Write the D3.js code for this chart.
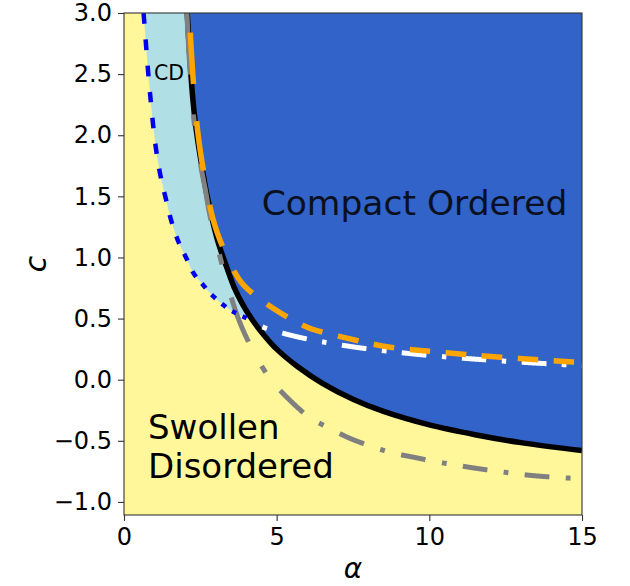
<!DOCTYPE html>
<html><head><meta charset="utf-8">
<script src="https://cdn.jsdelivr.net/npm/d3@7"></script>
<style>
html,body{margin:0;padding:0;background:#fff;}
svg{display:block;font-family:"DejaVu Sans",sans-serif;}
</style></head>
<body><svg id="chart" width="630" height="586"></svg>
<script>
// ---- data ----
const xTicks = [0, 5, 10, 15];
const yTicks = [-1.0, -0.5, 0.0, 0.5, 1.0, 1.5, 2.0, 2.5, 3.0];

// solid black phase boundary
const blackAlpha = [2.07, 2.14, 2.22, 2.30, 2.40, 2.54, 2.71, 2.90, 3.10, 3.35, 3.60, 3.90, 4.20, 4.60, 5.0, 5.67, 6.5, 7.5, 8.5, 10.0, 11.5, 13.0, 15.0];
const blackC     = [3.0, 2.7, 2.4, 2.18, 1.98, 1.76, 1.52, 1.30, 1.11, 0.93, 0.76, 0.61, 0.49, 0.36, 0.25, 0.11, -0.03, -0.16, -0.26, -0.37, -0.45, -0.515, -0.58];

// blue dotted boundary (CD / swollen)
const blueAlpha = [0.64, 0.66, 0.73, 0.80, 0.88, 0.96, 1.07, 1.21, 1.38, 1.56, 1.78, 2.03, 2.28, 2.59, 2.87, 3.19, 3.48, 3.83, 4.2];
const blueC     = [3.0, 2.94, 2.71, 2.49, 2.27, 2.07, 1.85, 1.65, 1.47, 1.29, 1.13, 1.00, 0.87, 0.775, 0.695, 0.625, 0.57, 0.525, 0.48];

// grey dash-dot line
const grayAlpha = [2.06, 2.12, 2.2, 2.3, 2.42, 2.55, 2.66, 2.8, 3.0, 3.3, 3.73, 4.22, 4.78, 5.44, 6.09, 6.75, 7.4, 8.16, 8.8, 9.4, 10.2, 11.4, 12.25, 13.2, 14.2, 15.0];
const grayC     = [3.0, 2.7, 2.4, 2.1, 1.9, 1.7, 1.56, 1.36, 1.15, 0.86, 0.51, 0.24, 0.01, -0.17, -0.31, -0.40, -0.48, -0.55, -0.60, -0.63, -0.67, -0.72, -0.75, -0.78, -0.80, -0.81];

// orange dashed line
const orangeAlpha = [2.17, 2.27, 2.42, 2.63, 2.92, 3.28, 3.8, 4.29, 4.85, 5.44, 6.09, 6.65, 7.3, 8.6, 10.35, 12.0, 15.0];
const orangeC     = [2.84, 2.44, 2.02, 1.67, 1.31, 1.06, 0.81, 0.69, 0.59, 0.50, 0.42, 0.38, 0.34, 0.27, 0.225, 0.19, 0.14];

// white dash-dot line
const whiteAlpha = [4.2, 4.55, 5.6, 6.6, 7.6, 8.4, 9.7, 11.4, 13.2, 15.0];
const whiteC     = [0.47, 0.43, 0.355, 0.305, 0.265, 0.24, 0.205, 0.17, 0.14, 0.115];

const regionNames = ["Compact Ordered", "Swollen", "Disordered", "CD"];

// ---- layout ----
const W = 630, H = 586;
const m = {left: 124, top: 13, right: 48, bottom: 71};
const iw = W - m.left - m.right, ih = H - m.top - m.bottom;

const x = d3.scaleLinear().domain([0, 15]).range([0, iw]);
const y = d3.scaleLinear().domain([-1.107, 3.0]).range([ih, 0]);

const svg = d3.select("#chart");
const g = svg.append("g").attr("transform", `translate(${m.left},${m.top})`);

svg.append("defs").append("clipPath").attr("id", "clip")
  .append("rect").attr("width", iw).attr("height", ih);

const plot = g.append("g").attr("clip-path", "url(#clip)");

const zip = (a, c) => a.map((v, i) => [v, c[i]]);
const blackPts = zip(blackAlpha, blackC);
const bluePts = zip(blueAlpha, blueC);
const grayPts = zip(grayAlpha, grayC);
const orangePts = zip(orangeAlpha, orangeC);
const whitePts = zip(whiteAlpha, whiteC);

const line = d3.line().x(d => x(d[0])).y(d => y(d[1])).curve(d3.curveCatmullRom.alpha(0.5));

// background (swollen disordered)
plot.append("rect").attr("width", iw).attr("height", ih).attr("fill", "#fff79a");

// CD region (light blue)
const blackUpper = blackPts.filter(d => d[0] <= 4.2).slice().reverse();
const cdPath = line(bluePts) + "L" + line(blackUpper).slice(1) + `L${x(0.64)},${y(3.2)}Z`;
plot.append("path").attr("d", cdPath).attr("fill", "#b0e0e6");

// compact ordered region
const coPath = line(blackPts) + `L${x(15.5)},${y(-0.58)}L${x(15.5)},${y(3.3)}L${x(2.07)},${y(3.3)}Z`;
plot.append("path").attr("d", coPath).attr("fill", "#3163c9");

// custom dashing (pattern measured along the drawn curves in the picture)
function dashes(pts, pattern, s, offset) {
  const tmp = plot.append("path").attr("d", line(pts)).attr("fill", "none");
  const node = tmp.node(), L = node.getTotalLength();
  const samples = [];
  for (let l = 0; l < L; l += 0.4) samples.push(node.getPointAtLength(l));
  samples.push(node.getPointAtLength(L));
  tmp.remove();
  const period = d3.sum(pattern);
  const isOn = w => {
    let r = ((w % period) + period) % period;
    for (let i = 0; i < pattern.length; i++) { if (r < pattern[i]) return i % 2 === 0; r -= pattern[i]; }
    return false;
  };
  const segs = []; let cur = null; let w = offset || 0;
  samples.forEach((p, i) => {
    if (i > 0) { const q = samples[i - 1]; w += Math.hypot(p.x - q.x, (p.y - q.y) / s); }
    if (isOn(w)) { if (!cur) { cur = []; segs.push(cur); } cur.push([p.x, p.y]); }
    else cur = null;
  });
  return segs.filter(sg => sg.length > 1);
}
function drawDashed(pts, color, width, pattern, offset) {
  const segs = dashes(pts, pattern, 2.5, offset);
  plot.append("g").selectAll("path").data(segs).join("path")
    .attr("d", d => d3.line()(d)).attr("fill", "none")
    .attr("stroke", color).attr("stroke-width", width)
    .attr("stroke-linecap", "butt").attr("stroke-linejoin", "round");
}

// solid black boundary
plot.append("path").attr("d", line(blackPts)).attr("fill", "none")
  .attr("stroke", "#000").attr("stroke-width", 5.5);

drawDashed(grayPts, "#808080", 5, [25, 16, 5, 16], 0);
drawDashed(whitePts, "#ffffff", 5, [25, 15, 5, 15], 30);
drawDashed(orangePts, "#ffa500", 5.5, [21, 15], 0);
drawDashed(bluePts, "#0000ee", 4.5, [4.5, 6.2], 0);

// region labels
const texts = g.append("g");
texts.append("text").attr("x", 414.5 - m.left).attr("y", 215 - m.top).attr("text-anchor", "middle")
  .attr("font-size", 34.5).attr("fill", "#0b1020").text(regionNames[0]);
[regionNames[1], regionNames[2]].forEach((t, i) => {
  texts.append("text").attr("x", 148 - m.left).attr("y", 439 - m.top + i * 39)
    .attr("font-size", 34).attr("fill", "#000").text(t);
});
texts.append("text").attr("x", 154 - m.left).attr("y", 80 - m.top)
  .attr("font-size", 20.5).attr("fill", "#000").text(regionNames[3]);

// axes
const xAxis = g.append("g").attr("transform", `translate(0,${ih})`)
  .call(d3.axisBottom(x).tickValues(xTicks).tickFormat(d3.format("d")).tickSize(6).tickPadding(7));
const yAxis = g.append("g")
  .call(d3.axisLeft(y).tickValues(yTicks).tickFormat(d3.format(".1f")).tickSize(6).tickPadding(6));
[xAxis, yAxis].forEach(a => {
  a.select(".domain").remove();
  a.selectAll(".tick line").attr("stroke", "#333").attr("stroke-width", 1.1);
  a.selectAll(".tick text").attr("font-size", 24).attr("fill", "#000")
    .attr("font-family", "DejaVu Sans");
});
g.append("rect").attr("width", iw).attr("height", ih).attr("fill", "none")
  .attr("stroke", "#333").attr("stroke-width", 1.1);

// axis labels
svg.append("text").attr("x", m.left + iw / 2).attr("y", 578).attr("text-anchor", "middle")
  .attr("font-size", 28).attr("font-style", "italic").attr("font-family", "DejaVu Sans").text("α");
svg.append("text").attr("transform", `translate(46,${m.top + ih / 2}) rotate(-90)`)
  .attr("text-anchor", "middle").attr("font-size", 30).attr("font-style", "italic")
  .attr("font-family", "DejaVu Sans").text("c");
</script></body></html>
